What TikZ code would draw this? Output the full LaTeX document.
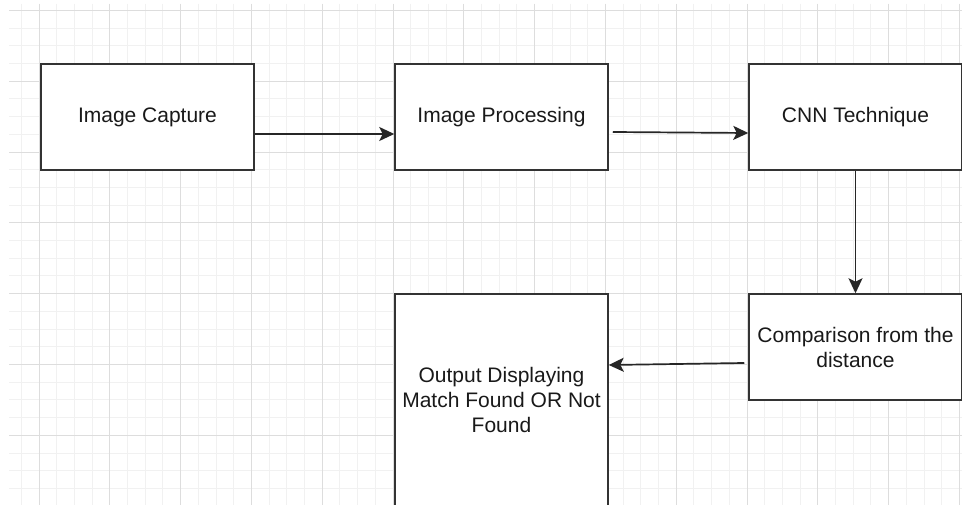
\documentclass[tikz,border=0pt]{standalone}
\usepackage{fontspec}
\setmainfont{Liberation Sans}
\usetikzlibrary{arrows.meta}
\definecolor{gridmajor}{HTML}{DDDDDD}
\definecolor{gridminor}{HTML}{F1F1F1}
\definecolor{boxline}{HTML}{333333}
\tikzset{
  stage/.style={draw=boxline, line width=1.5pt, fill=white, rectangle,
    minimum width=213pt, minimum height=106pt, inner sep=0pt,
    align=center, font=\fontsize{21}{25}\selectfont, text=black!90},
  flow/.style={draw=black!85, line width=1.7pt,
    -{Stealth[length=15pt, width=14pt, inset=3.5pt]}},
}
\begin{document}
\begin{tikzpicture}[x=1pt, y=-1pt]
  \useasboundingbox (0,0) rectangle (962,505);
  \fill[white] (0,0) rectangle (962,505);
  \begin{scope}
    \clip (9,4) rectangle (962,505);
    % minor grid
    \foreach \k in {0,...,60} {
      \draw[gridminor, line width=1pt] ({21.3+17.7*\k},4) -- ({21.3+17.7*\k},505);
      \draw[gridminor, line width=1pt] (9,{10.5+17.7*\k}) -- (962,{10.5+17.7*\k});
    }
    % major grid
    \foreach \k in {0,...,14} {
      \draw[gridmajor, line width=1pt] ({39+70.8*\k},4) -- ({39+70.8*\k},505);
      \draw[gridmajor, line width=1pt] (9,{10.5+70.8*\k}) -- (962,{10.5+70.8*\k});
    }
  \end{scope}
  \begin{scope}
    \clip (0,0) rectangle (962,505);
    \node[stage] (cap)  at (147.5,117) {Image Capture};
    \node[stage] (proc) at (501.5,117) {Image Processing};
    \node[stage] (cnn)  at (855.5,117) {CNN Technique};
    \node[stage] (comp) at (855.5,347) {Comparison from the\\distance};
    \node[stage, minimum height=212pt] (out) at (501.5,400)
      {Output Displaying\\Match Found OR Not\\Found};

    \draw[flow] ([yshift=-17pt]cap.east) -- ([yshift=-17pt]proc.west);
    \draw[flow] ([xshift=4pt,yshift=-15pt]proc.east) -- ([yshift=-16pt]cnn.west);
    \draw[flow] (cnn.south) -- (comp.north);
    \draw[flow] ([xshift=-4pt,yshift=-16pt]comp.west) -- ([yshift=35pt]out.east);
  \end{scope}
\end{tikzpicture}
\end{document}
